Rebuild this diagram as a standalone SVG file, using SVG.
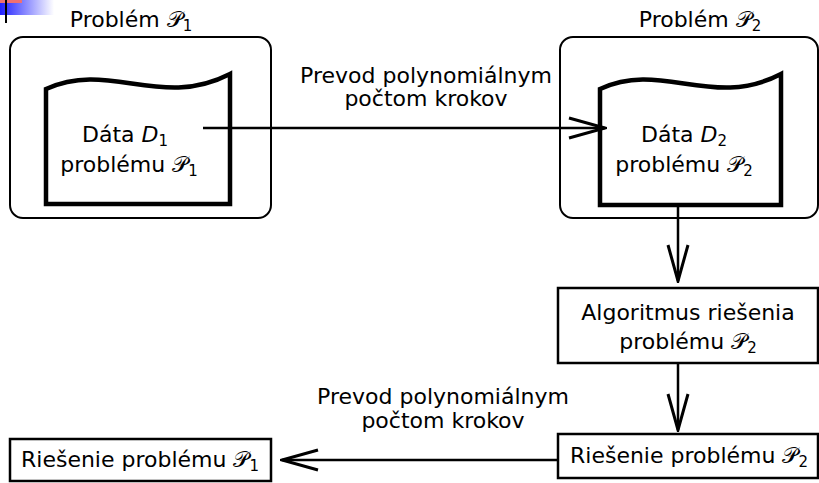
<svg xmlns="http://www.w3.org/2000/svg" width="819" height="483" viewBox="0 0 819 483">
<defs>
<linearGradient id="lg" x1="0" y1="0" x2="1" y2="0">
<stop offset="0" stop-color="#2020ff"/>
<stop offset="1" stop-color="#ffffff"/>
</linearGradient>
<marker id="ah" viewBox="0 0 40 24" refX="38" refY="12" markerWidth="40" markerHeight="24" markerUnits="userSpaceOnUse" orient="auto">
<path d="M2,2 L38,12 L2,22" fill="none" stroke="#000" stroke-width="3"/>
</marker>
</defs>
<style>
text{font-family:"DejaVu Sans","Liberation Sans",sans-serif;font-size:22px;fill:#000}
.c{text-anchor:middle}
.sub{font-size:15px}
.cal{font-family:"DejaVu Sans","Noto Sans",sans-serif}
.it{font-style:italic}
.outer{fill:none;stroke:#000;stroke-width:2}
.doc{fill:#fff;stroke:#000;stroke-width:4.5}
.box{fill:#fff;stroke:#000;stroke-width:2.5}
.edge{fill:none;stroke:#000;stroke-width:2.5}
</style>
<g id="logo">
<rect x="0" y="0" width="54" height="15" fill="url(#lg)"/>
<rect x="0" y="0" width="22" height="3" fill="#f07070"/>
<line x1="6" y1="0" x2="6" y2="23" stroke="#000" stroke-width="2"/>
</g>
<g id="problem1">
<text x="131" y="27" class="c">Problém <tspan class="cal">𝒫</tspan><tspan class="sub" dy="4">1</tspan></text>
<rect x="10" y="37" width="261" height="181" rx="13" class="outer"/>
</g>
<g id="data1">
<path d="M46,89 C110,60 160,110 230,74 L230,204 L46,204 Z" class="doc"/>
<text x="125" y="142" class="c">Dáta <tspan class="it">D</tspan><tspan class="sub" dy="4">1</tspan></text>
<text x="129" y="172" class="c">problému <tspan class="cal">𝒫</tspan><tspan class="sub" dy="4">1</tspan></text>
</g>
<g id="problem2">
<text x="700" y="27" class="c">Problém <tspan class="cal">𝒫</tspan><tspan class="sub" dy="4">2</tspan></text>
<rect x="560" y="37" width="258" height="181" rx="13" class="outer"/>
</g>
<g id="data2">
<path d="M600,89 C662,60 712,110 781,74 L781,205 L600,205 Z" class="doc"/>
<text x="684" y="142" class="c">Dáta <tspan class="it">D</tspan><tspan class="sub" dy="4">2</tspan></text>
<text x="684" y="172" class="c">problému <tspan class="cal">𝒫</tspan><tspan class="sub" dy="4">2</tspan></text>
</g>
<g id="algo">
<rect x="558" y="288" width="260" height="75" class="box"/>
<text x="688" y="320" class="c">Algoritmus riešenia</text>
<text x="688" y="349" class="c">problému <tspan class="cal">𝒫</tspan><tspan class="sub" dy="4">2</tspan></text>
</g>
<g id="sol2">
<rect x="558" y="434" width="260" height="44" class="box"/>
<text x="689" y="463" class="c">Riešenie problému <tspan class="cal">𝒫</tspan><tspan class="sub" dy="4">2</tspan></text>
</g>
<g id="sol1">
<rect x="10" y="439" width="261" height="42" class="box"/>
<text x="140" y="467" class="c">Riešenie problému <tspan class="cal">𝒫</tspan><tspan class="sub" dy="4">1</tspan></text>
</g>
<g id="connectors">
<line x1="203" y1="128" x2="605" y2="128" class="edge" marker-end="url(#ah)"/>
<line x1="678" y1="205" x2="678" y2="281" class="edge" marker-end="url(#ah)"/>
<line x1="678" y1="363" x2="678" y2="430" class="edge" marker-end="url(#ah)"/>
<line x1="558" y1="460" x2="282" y2="460" class="edge" marker-end="url(#ah)"/>
<text x="426" y="83" class="c">Prevod polynomiálnym</text>
<text x="426" y="106" class="c">počtom krokov</text>
<text x="443" y="404" class="c">Prevod polynomiálnym</text>
<text x="443" y="428" class="c">počtom krokov</text>
</g>
</svg>
